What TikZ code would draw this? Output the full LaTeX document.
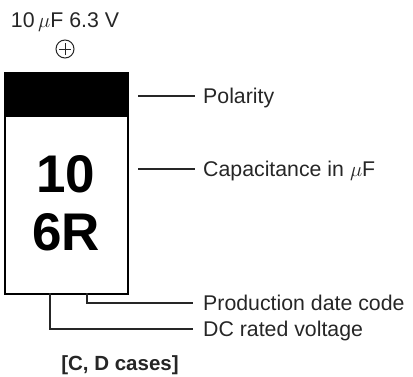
\documentclass[tikz,border=0pt]{standalone}
\usepackage{fontspec}
\setsansfont{Liberation Sans}
\usetikzlibrary{positioning}

\definecolor{ink}{gray}{0.15}

\begin{document}
\begin{tikzpicture}[
    x=1pt, y=-1pt,
    font=\sffamily\fontsize{21.3}{25}\selectfont,
    casebody/.style={draw, line width=1.8pt, minimum width=123pt, minimum height=221pt, inner sep=0pt, anchor=north west},
    band/.style={fill=black, minimum width=123pt, minimum height=45pt, inner sep=0pt, anchor=north west},
    bigmark/.style={font=\sffamily\bfseries\fontsize{53}{57}\selectfont},
    labeltext/.style={text=ink, anchor=base west, inner sep=0pt},
    leadline/.style={line width=1.2pt, ink}
]
    \useasboundingbox (0,0) rectangle (413,376);

    % capacitor body with polarity band
    \node (body) [casebody] at (4,72) {};
    \node (band) [band] at (4,72) {};
    \node (cap) [bigmark] at (66,174) {10};
    \node (volt) [bigmark] at (66,232) {6R};

    % rating and polarity sign above
    \node (rating) [text=ink] at (65,22) {10\,$\mu$F 6.3 V};
    \node (plus) [draw=ink, circle, line width=1pt, minimum size=18pt, inner sep=0pt] at (65,49) {};
    \draw[ink, line width=1pt] ([xshift=-6pt]plus.center) -- ([xshift=6pt]plus.center);
    \draw[ink, line width=1pt] ([yshift=-6pt]plus.center) -- ([yshift=6pt]plus.center);

    % callouts
    \node (polarity) [labeltext] at (203,103.5) {Polarity};
    \node (capacity) [labeltext] at (203,176.5) {Capacitance in $\mu$F};
    \node (datecode) [labeltext] at (203,310.5) {Production date code};
    \node (ratedv) [labeltext] at (203,336.5) {DC rated voltage};

    \coordinate (polstart) at (138,96);
    \coordinate (capstart) at (138,169);
    \coordinate (leadA) at (87,293);
    \coordinate (leadB) at (50,293);

    \draw[leadline] (polstart) -- ([xshift=-8pt]polstart -| polarity.west);
    \draw[leadline] (capstart) -- ([xshift=-8pt]capstart -| capacity.west);
    \draw[leadline] (leadA) |- ++(106,10);
    \draw[leadline] (leadB) |- ++(143,36);

    \node (cases) [font=\sffamily\bfseries\fontsize{20.5}{24}\selectfont, text=ink, anchor=base, inner sep=0pt] at (120,370) {[C, D cases]};
\end{tikzpicture}
\end{document}
